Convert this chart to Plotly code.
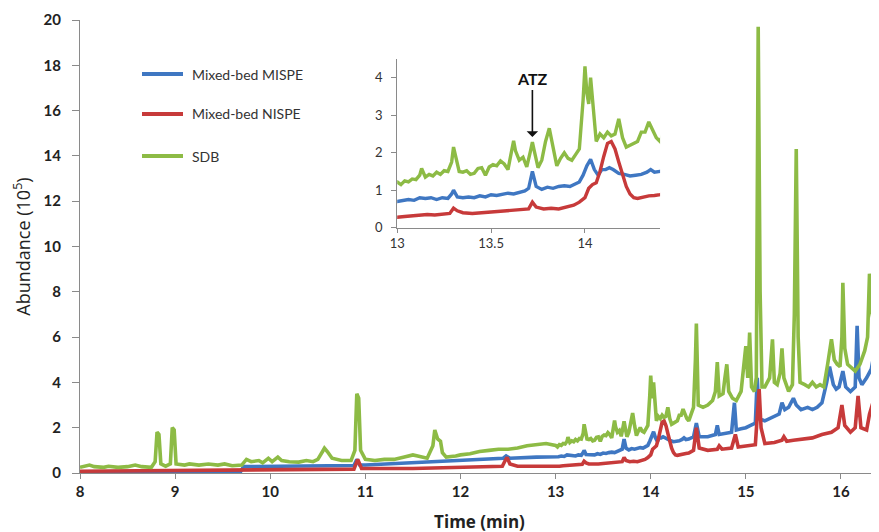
import plotly.graph_objects as go

# ---------------- data (values in 10^5 abundance units, time in min) ----------------
# SDB (green)
sdb_time_early = [8.00, 8.05, 8.10, 8.15, 8.25, 8.30, 8.40, 8.50, 8.58, 8.65, 8.75, 8.79, 8.81, 8.83, 8.85,
                  8.90, 8.95, 8.97, 8.99, 9.01, 9.10, 9.15, 9.25, 9.35, 9.45, 9.52, 9.60, 9.70, 9.75, 9.80,
                  9.88, 9.92, 9.98, 10.02, 10.08, 10.12, 10.20, 10.30, 10.38, 10.45, 10.50, 10.55, 10.57,
                  10.60, 10.65, 10.75, 10.85, 10.89, 10.91, 10.93, 10.95, 11.00, 11.10, 11.20, 11.30, 11.40,
                  11.50, 11.55, 11.65, 11.71, 11.73, 11.76, 11.79, 11.81, 11.85, 11.95, 12.00, 12.10, 12.20,
                  12.30, 12.40, 12.50, 12.60, 12.70, 12.80, 12.90]
sdb_abund_early = [0.25, 0.30, 0.35, 0.28, 0.25, 0.30, 0.25, 0.28, 0.35, 0.28, 0.25, 0.50, 1.80, 1.70, 0.40,
                   0.30, 0.40, 2.00, 1.90, 0.40, 0.35, 0.40, 0.35, 0.40, 0.35, 0.40, 0.32, 0.35, 0.60, 0.50,
                   0.55, 0.45, 0.65, 0.50, 0.70, 0.55, 0.50, 0.48, 0.55, 0.50, 0.60, 0.95, 1.10,
                   0.95, 0.65, 0.55, 0.55, 1.00, 3.50, 3.30, 1.00, 0.60, 0.55, 0.60, 0.60, 0.70,
                   0.80, 0.75, 0.65, 1.20, 1.90, 1.50, 1.40, 0.90, 0.70, 0.75, 0.80, 0.85, 0.95,
                   1.00, 1.05, 1.05, 1.10, 1.20, 1.25, 1.30]
sdb_time_mid = [13.00, 13.02, 13.04, 13.06, 13.08, 13.10, 13.12, 13.13, 13.15, 13.17, 13.19, 13.21, 13.23,
                13.25, 13.27, 13.29, 13.30, 13.31, 13.33, 13.35, 13.37, 13.39, 13.41, 13.43, 13.45, 13.47,
                13.49, 13.51, 13.53, 13.55, 13.57, 13.59, 13.61, 13.62, 13.63, 13.65, 13.67, 13.69, 13.71,
                13.72, 13.73, 13.75, 13.77, 13.79, 13.81, 13.83, 13.85, 13.87, 13.89, 13.91, 13.93, 13.95,
                13.97, 13.99, 14.00, 14.01, 14.02, 14.03, 14.04, 14.06, 14.08, 14.10, 14.12, 14.14, 14.16,
                14.18, 14.20, 14.22, 14.24, 14.26, 14.28, 14.30, 14.32, 14.34, 14.36, 14.38, 14.40]
sdb_abund_mid = [1.22, 1.15, 1.25, 1.22, 1.30, 1.28, 1.40, 1.58, 1.35, 1.42, 1.38, 1.48, 1.42,
                 1.52, 1.50, 1.75, 2.15, 1.95, 1.50, 1.48, 1.52, 1.42, 1.45, 1.58, 1.60, 1.40,
                 1.62, 1.68, 1.65, 1.78, 1.70, 1.55, 2.00, 2.32, 2.05, 1.80, 1.88, 1.62, 2.05,
                 2.28, 2.05, 1.60, 1.80, 2.30, 2.65, 2.10, 1.65, 1.85, 2.00, 1.85, 1.80, 1.95,
                 2.10, 3.40, 4.30, 3.60, 3.30, 4.00, 3.40, 2.30, 2.50, 2.40, 2.55, 2.45, 2.50,
                 2.90, 2.40, 2.15, 2.20, 2.25, 2.30, 2.55, 2.55, 2.82, 2.60, 2.40, 2.30]
sdb_time_late = [14.45, 14.47, 14.48, 14.50, 14.55, 14.60, 14.65, 14.68, 14.70, 14.72, 14.76, 14.78, 14.80,
                 14.82, 14.86, 14.90, 14.95, 14.98, 15.00, 15.02, 15.04, 15.06, 15.09, 15.11, 15.13, 15.15,
                 15.17, 15.20, 15.25, 15.28, 15.30, 15.33, 15.36, 15.38, 15.40, 15.45, 15.49, 15.51, 15.53,
                 15.55, 15.57, 15.62, 15.66, 15.70, 15.74, 15.78, 15.82, 15.86, 15.88, 15.90, 15.93, 15.96,
                 15.99, 16.01, 16.02, 16.04, 16.07, 16.10, 16.15, 16.20, 16.25, 16.28, 16.30, 16.32, 16.35,
                 16.38, 16.40]
sdb_abund_late = [2.90, 5.00, 6.60, 3.00, 2.90, 3.00, 3.20, 3.60, 4.90, 3.40, 3.50, 4.20, 4.80,
                  3.60, 3.30, 3.20, 3.60, 4.80, 5.60, 4.20, 6.20, 3.80, 3.60, 4.20, 19.70, 8.00,
                  3.80, 3.80, 4.20, 5.90, 4.00, 3.90, 4.40, 5.50, 4.20, 3.60, 3.90, 7.00, 14.30,
                  6.00, 4.00, 3.90, 3.80, 4.00, 3.80, 3.90, 3.80, 4.80, 5.40, 5.90, 5.00, 4.80,
                  4.70, 6.00, 8.40, 5.50, 4.80, 4.70, 4.50, 4.80, 5.40, 6.00, 8.80, 7.20, 6.50,
                  6.30, 6.20]

# Mixed-bed MISPE (blue)
mispe_time_early = [8.00, 8.50, 9.00, 9.50, 9.69, 9.72, 10.00, 10.50, 10.88, 10.91, 10.94, 11.00, 11.50,
                    12.00, 12.45, 12.48, 12.52, 12.80]
mispe_abund_early = [0.05, 0.06, 0.06, 0.07, 0.07, 0.28, 0.30, 0.32, 0.33, 0.60, 0.35, 0.35, 0.45,
                     0.55, 0.65, 0.75, 0.65, 0.70]
mispe_time_mid = [13.00, 13.03, 13.06, 13.09, 13.12, 13.15, 13.18, 13.21, 13.24, 13.27, 13.29, 13.30, 13.32,
                  13.35, 13.38, 13.41, 13.44, 13.47, 13.50, 13.53, 13.56, 13.59, 13.62, 13.65, 13.68, 13.70,
                  13.72, 13.74, 13.77, 13.80, 13.83, 13.86, 13.89, 13.92, 13.95, 13.97, 13.99, 14.01, 14.03,
                  14.05, 14.07, 14.09, 14.11, 14.13, 14.15, 14.18, 14.21, 14.24, 14.27, 14.30, 14.33, 14.35,
                  14.37, 14.40]
mispe_abund_mid = [0.70, 0.72, 0.75, 0.73, 0.80, 0.78, 0.80, 0.75, 0.80, 0.78, 0.90, 1.00, 0.82,
                   0.80, 0.82, 0.80, 0.85, 0.82, 0.88, 0.86, 0.90, 0.92, 0.90, 0.95, 0.98, 1.05,
                   1.50, 1.10, 1.02, 1.08, 1.05, 1.10, 1.12, 1.10, 1.18, 1.22, 1.40, 1.65, 1.82,
                   1.55, 1.40, 1.55, 1.55, 1.60, 1.55, 1.45, 1.42, 1.38, 1.40, 1.42, 1.48, 1.55,
                   1.48, 1.50]
mispe_time_late = [14.45, 14.48, 14.51, 14.60, 14.68, 14.70, 14.72, 14.80, 14.85, 14.88, 14.90, 14.95, 15.00,
                   15.05, 15.10, 15.12, 15.14, 15.20, 15.25, 15.30, 15.35, 15.38, 15.41, 15.45, 15.50, 15.53,
                   15.58, 15.65, 15.70, 15.75, 15.80, 15.85, 15.88, 15.92, 15.95, 15.98, 16.02, 16.05, 16.10,
                   16.15, 16.17, 16.19, 16.22, 16.27, 16.32, 16.35, 16.38, 16.40]
mispe_abund_late = [1.60, 2.20, 1.60, 1.60, 1.70, 2.10, 1.70, 1.75, 1.80, 3.10, 1.90, 1.95, 2.00,
                    2.10, 2.20, 4.20, 2.40, 2.30, 2.40, 2.50, 2.60, 3.10, 2.80, 2.90, 3.30, 3.00,
                    2.80, 2.90, 2.80, 2.90, 3.10, 4.00, 4.70, 3.90, 3.70, 3.80, 4.50, 3.80, 3.60,
                    3.80, 6.50, 4.20, 3.90, 4.20, 4.60, 5.30, 5.00, 5.10]

# Mixed-bed NISPE (red)
nispe_time_early = [8.00, 8.50, 9.00, 9.50, 10.00, 10.50, 10.88, 10.92, 10.96, 11.50, 12.00, 12.44, 12.47,
                    12.49, 12.52, 12.60, 12.80]
nispe_abund_early = [0.08, 0.10, 0.10, 0.12, 0.15, 0.15, 0.17, 0.60, 0.20, 0.20, 0.25, 0.30, 0.55,
                     0.68, 0.40, 0.30, 0.30]
nispe_time_mid = [13.00, 13.04, 13.08, 13.12, 13.16, 13.20, 13.24, 13.28, 13.30, 13.32, 13.35, 13.40, 13.45,
                  13.50, 13.55, 13.60, 13.65, 13.70, 13.72, 13.74, 13.78, 13.82, 13.86, 13.90, 13.94, 13.97,
                  14.00, 14.02, 14.04, 14.06, 14.08, 14.10, 14.12, 14.14, 14.16, 14.18, 14.20, 14.22, 14.24,
                  14.26, 14.28, 14.31, 14.34, 14.37, 14.40]
nispe_abund_mid = [0.28, 0.30, 0.32, 0.33, 0.35, 0.34, 0.36, 0.38, 0.52, 0.45, 0.40, 0.38, 0.40,
                   0.42, 0.43, 0.45, 0.47, 0.50, 0.68, 0.55, 0.50, 0.52, 0.50, 0.55, 0.60, 0.68,
                   0.80, 1.05, 1.15, 1.20, 1.50, 1.90, 2.25, 2.30, 2.10, 1.75, 1.40, 1.10, 0.90,
                   0.80, 0.78, 0.82, 0.85, 0.86, 0.88]
nispe_time_late = [14.45, 14.48, 14.51, 14.60, 14.70, 14.72, 14.75, 14.85, 14.89, 14.92, 15.00, 15.10, 15.12,
                   15.14, 15.16, 15.20, 15.30, 15.38, 15.40, 15.43, 15.50, 15.60, 15.70, 15.80, 15.90, 15.97,
                   16.01, 16.04, 16.10, 16.15, 16.18, 16.21, 16.27, 16.30, 16.35, 16.40]
nispe_abund_late = [1.00, 2.00, 1.10, 1.00, 1.05, 1.20, 1.05, 1.10, 1.70, 1.15, 1.20, 1.25, 2.50,
                    3.70, 2.00, 1.30, 1.35, 1.45, 1.60, 1.40, 1.45, 1.50, 1.55, 1.70, 1.80, 2.00,
                    3.00, 2.10, 1.80, 2.00, 3.40, 2.00, 1.90, 2.60, 3.30, 4.00]

series_names = ["Mixed-bed MISPE", "Mixed-bed NISPE", "SDB"]
series_colors = ["#3f77c2", "#c73a3a", "#8dbb45"]

x_ticks_main = [8, 9, 10, 11, 12, 13, 14, 15, 16]
y_ticks_main = [0, 2, 4, 6, 8, 10, 12, 14, 16, 18, 20]
x_ticks_inset = [13, 13.5, 14]
x_ticklabels_inset = ["13", "13.5", "14"]
y_ticks_inset = [0, 1, 2, 3, 4]

# ---------------- assemble ----------------
times = [
    mispe_time_early + mispe_time_mid + mispe_time_late,
    nispe_time_early + nispe_time_mid + nispe_time_late,
    sdb_time_early + sdb_time_mid + sdb_time_late,
]
abunds = [
    mispe_abund_early + mispe_abund_mid + mispe_abund_late,
    nispe_abund_early + nispe_abund_mid + nispe_abund_late,
    sdb_abund_early + sdb_abund_mid + sdb_abund_late,
]

FONT = "Lato, 'Open Sans', sans-serif"
TFONT = "'Open Sans', Lato, sans-serif"
AXIS_COLOR = "#8a8a8a"

fig = go.Figure()
for name, color, t, a in zip(series_names, series_colors, times, abunds):
    fig.add_trace(go.Scatter(x=t, y=a, mode="lines", name=name,
                             line=dict(color=color, width=3.6), showlegend=False,
                             xaxis="x", yaxis="y"))
for name, color, t, a in zip(series_names, series_colors, times, abunds):
    fig.add_trace(go.Scatter(x=t, y=a, mode="lines", name=name,
                             line=dict(color=color, width=3.4), showlegend=False,
                             xaxis="x2", yaxis="y2"))

# the page body adds an 8px offset; margins compensate so the plot area sits at x 80..879, y 20..473
fig.update_layout(
    width=879, height=532,
    margin=dict(l=72, r=8, t=12, b=67),
    paper_bgcolor="white", plot_bgcolor="white",
    font=dict(family=FONT, color="#222222"),
    xaxis=dict(range=[8, 16.4], tickvals=x_ticks_main, showgrid=False, zeroline=False,
               automargin=False,
               showline=True, linecolor=AXIS_COLOR, linewidth=1.3,
               ticks="outside", ticklen=5, tickcolor=AXIS_COLOR, tickwidth=1.3,
               tickfont=dict(size=15, family=FONT, weight="bold", color="#222"),
               title=dict(text="Time (min)", font=dict(size=17, family=TFONT, weight="bold", color="#222"),
                          standoff=16)),
    yaxis=dict(range=[0, 20], tickvals=y_ticks_main, showgrid=False, zeroline=False,
               automargin=False,
               showline=True, linecolor=AXIS_COLOR, linewidth=1.3,
               ticks="outside", ticklen=7, tickcolor=AXIS_COLOR, tickwidth=1.3,
               ticklabelstandoff=8,
               tickfont=dict(size=15, family=FONT, weight="bold", color="#222"),
               title=dict(text="Abundance (10<sup>5</sup>)", font=dict(size=18, family=TFONT, color="#222"),
                          standoff=8)),
    xaxis2=dict(domain=[0.397, 0.726], anchor="y2", range=[13, 14.4], automargin=False,
                tickvals=x_ticks_inset, ticktext=x_ticklabels_inset,
                showgrid=False, zeroline=False, showline=True, linecolor=AXIS_COLOR, linewidth=1.2,
                ticks="outside", ticklen=4, tickcolor=AXIS_COLOR,
                tickfont=dict(size=13, family=FONT, color="#333")),
    yaxis2=dict(domain=[0.5415, 0.914], anchor="x2", range=[0, 4.5], automargin=False,
                tickvals=y_ticks_inset, showgrid=False, zeroline=False,
                showline=True, linecolor=AXIS_COLOR, linewidth=1.2,
                ticks="outside", ticklen=5, tickcolor=AXIS_COLOR, ticklabelstandoff=6,
                tickfont=dict(size=13, family=FONT, color="#333")),
)

# ATZ arrow in the inset
fig.add_annotation(x=13.72, y=2.42, xref="x2", yref="y2", text="<b>ATZ</b>",
                   showarrow=True, arrowhead=1, arrowsize=1.2, arrowwidth=1.6, arrowcolor="#111",
                   ax=0, ay=-58, font=dict(size=16, family=FONT, color="#111"))

# manual legend
legend_y_px = [74, 114, 156]
for name, color, ypx in zip(series_names, series_colors, legend_y_px):
    yp = (473 - ypx) / 453
    fig.add_shape(type="line", xref="paper", yref="paper",
                  x0=(142 - 80) / 799, x1=(183 - 80) / 799, y0=yp, y1=yp,
                  line=dict(color=color, width=4))
    fig.add_annotation(xref="paper", yref="paper", x=(190 - 80) / 799, y=yp,
                       xanchor="left", yanchor="middle", showarrow=False, text=name,
                       font=dict(size=14, family=FONT, color="#333"))

fig.write_html("out.html")
